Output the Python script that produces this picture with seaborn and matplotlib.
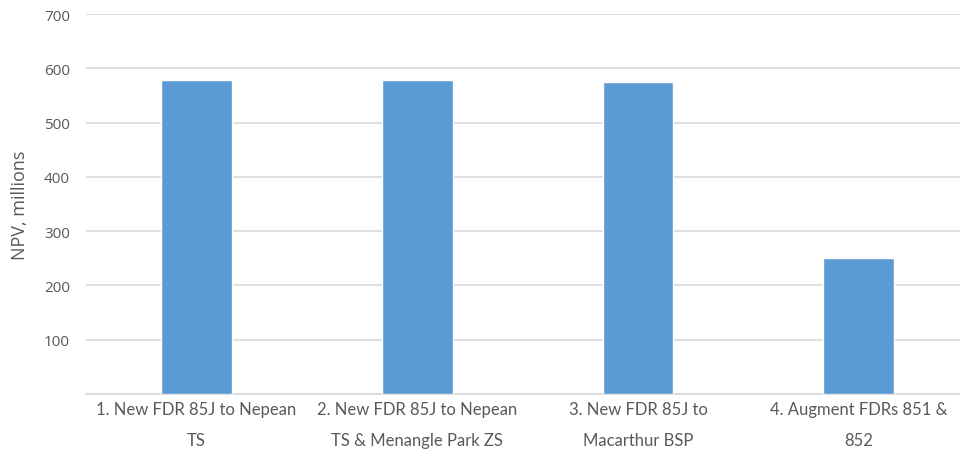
import matplotlib
matplotlib.use("Agg")
import matplotlib.pyplot as plt
import seaborn as sns
import pandas as pd

categories = [
    "1. New FDR 85J to Nepean\nTS",
    "2. New FDR 85J to Nepean\nTS & Menangle Park ZS",
    "3. New FDR 85J to\nMacarthur BSP",
    "4. Augment FDRs 851 &\n852",
]
npv_millions = [578, 578, 575, 251]
y_ticks = [0, 100, 200, 300, 400, 500, 600, 700]
y_tick_labels = ["", "100", "200", "300", "400", "500", "600", "700"]

sns.set_theme(style="white")
plt.rcParams["font.family"] = ["Lato", "DejaVu Sans"]

df = pd.DataFrame({"option": categories, "npv": npv_millions})

fig = plt.figure(figsize=(9.6, 4.56), dpi=100)
# plot area runs slightly past the right edge of the canvas
ax = fig.add_axes([0.0896, 0.134, 0.92, 0.833])

sns.barplot(data=df, x="option", y="npv", color="#5b9bd5", width=0.32,
            saturation=1, ax=ax, zorder=3)

ax.set_ylim(0, 700)
ax.set_yticks(y_ticks)
ax.set_yticklabels(y_tick_labels, fontfamily=["Open Sans", "DejaVu Sans"])
ax.set_xlim(-0.5, len(categories) - 0.5)
ax.grid(axis="y", color="#d9d9d9", linewidth=1.2, zorder=0)
ax.grid(axis="x", visible=False)
for s in ["top", "right", "left"]:
    ax.spines[s].set_visible(False)
ax.spines["bottom"].set_color("#d9d9d9")
ax.spines["bottom"].set_linewidth(1.2)

ax.tick_params(axis="y", length=0, pad=11.5, labelsize=11, labelcolor="#595959")
ax.tick_params(axis="x", length=0, pad=5, labelsize=12, labelcolor="#595959")
for lbl in ax.get_xticklabels():
    lbl.set_linespacing(2.15)
ax.set_xlabel("")
ax.set_ylabel("")
fig.text(20 / 960, 1 - 205 / 456, "NPV, millions", rotation=90, ha="center",
         va="center", fontsize=13, color="#595959",
         fontfamily=["Open Sans", "DejaVu Sans"])

fig.savefig("out.png", dpi=100, facecolor="white")
